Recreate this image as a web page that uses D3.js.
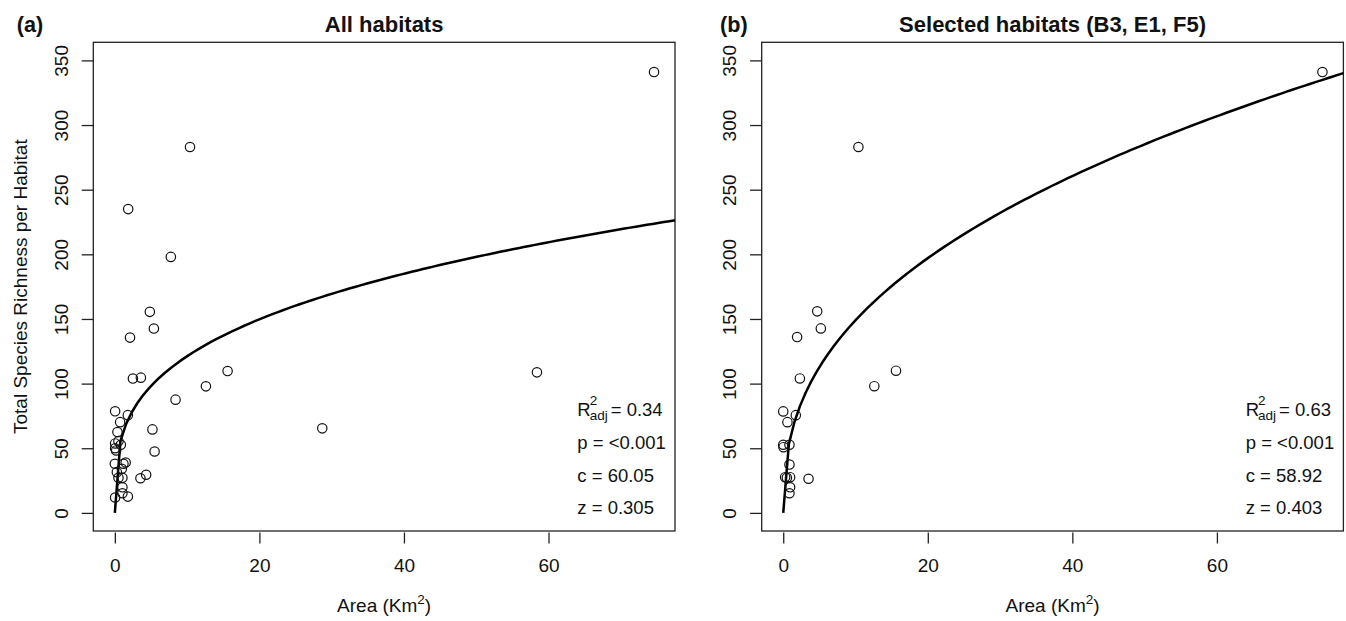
<!DOCTYPE html>
<html>
<head>
<meta charset="utf-8">
<script src="https://cdn.jsdelivr.net/npm/d3@7"></script>
<style>
  html, body { margin: 0; padding: 0; background: #fff; }
  svg { display: block; font-family: "Liberation Sans", Arial, Helvetica, sans-serif; }
</style>
</head>
<body>
<svg id="chart" width="1346" height="621"></svg>
<script>
// ---- data ----
const areaAll = [74.6, 10.4, 1.85, 7.75, 4.84, 5.4, 2.1, 2.5, 3.6, 15.6, 12.6, 58.4, 8.4,
  0.04, 1.8, 0.73, 5.2, 0.36, 0.5, 0.04, 0.83, 0.04, 0.18, 5.5, 28.7, 0.0, 1.19, 1.5,
  0.28, 0.97, 4.33, 3.54, 0.5, 1.05, 1.05, 1.05, 0.04, 1.8];
const richAll = [341, 283, 235, 198, 155.5, 142.6, 135.6, 103.9, 104.6, 109.7, 97.9, 108.7, 87.6,
  78.6, 75.6, 70.2, 64.6, 62.5, 55.5, 53.7, 52.7, 50, 48.3, 47.5, 65.4, 38, 38, 39,
  31.5, 34.1, 29.5, 26.8, 27.1, 27.1, 19.8, 15.2, 11.9, 12.6];
const areaSel = [74.6, 10.4, 4.7, 5.2, 1.92, 2.3, 12.6, 15.6, 0.0, 1.74, 0.58, 0.0, 0.03, 0.86,
  0.86, 3.5, 0.26, 0.5, 0.95, 0.95, 0.86];
const richSel = [341, 283, 155.9, 142.7, 136, 104, 98, 110, 78.5, 75.6, 70.2, 52.7, 50.8, 52.7,
  37.4, 26.4, 27.6, 27.1, 27.6, 19.8, 15.2];

const panelTitles = ["All habitats", "Selected habitats (B3, E1, F5)"];
const panelTags = ["(a)", "(b)"];
const fitC = [60.05, 58.92];
const fitZ = [0.305, 0.403];
const r2Labels = ["0.34", "0.63"];
const pLabels = ["<0.001", "<0.001"];
const cLabels = ["60.05", "58.92"];
const zLabels = ["0.305", "0.403"];
const xTicks = [0, 20, 40, 60];
const yTicks = [0, 50, 100, 150, 200, 250, 300, 350];
const xDomain = [-2.98, 77.5];
const yDomain = [-14, 364];

// ---- layout ----
const svg = d3.select("#chart");
const panelW = 581.7, panelH = 488.7;
const panelLeft = [93.3, 761.7];
const panelTop = 42.3;
const tagX = [16.7, 720];
const fs = 19;
const fsStats = 18.5;

const x = d3.scaleLinear().domain(xDomain).range([0, panelW]);
const y = d3.scaleLinear().domain(yDomain).range([panelH, 0]);

const datasets = [[areaAll, richAll], [areaSel, richSel]];

for (let p = 0; p < 2; p++) {
  const g = svg.append("g").attr("transform", `translate(${panelLeft[p]},${panelTop})`);

  // box
  g.append("rect").attr("x", 0).attr("y", 0).attr("width", panelW).attr("height", panelH)
    .attr("fill", "none").attr("stroke", "#222").attr("stroke-width", 1.3);

  // x axis
  const xa = g.append("g").attr("transform", `translate(0,${panelH + 1.5})`)
    .call(d3.axisBottom(x).tickValues(xTicks).tickSize(11).tickSizeOuter(0).tickPadding(15.5)
      .tickFormat(d3.format("d")));
  xa.select(".domain").remove();
  xa.selectAll(".tick line").attr("stroke", "#222").attr("stroke-width", 1.3);
  xa.selectAll(".tick text").attr("font-size", fs).attr("fill", "#111")
    .attr("font-family", "Liberation Sans, Arial, sans-serif");

  // y axis
  const ya = g.append("g")
    .call(d3.axisLeft(y).tickValues(yTicks).tickSize(11.6).tickSizeOuter(0)
      .tickFormat(d3.format("d")));
  ya.select(".domain").remove();
  ya.selectAll(".tick line").attr("stroke", "#222").attr("stroke-width", 1.3);
  ya.selectAll(".tick text")
    .attr("x", null).attr("dy", null).attr("y", 0)
    .attr("text-anchor", "middle")
    .attr("transform", "translate(-25.5,0) rotate(-90)")
    .attr("font-size", fs).attr("fill", "#111")
    .attr("font-family", "Liberation Sans, Arial, sans-serif");

  // fitted power curve S = c * A^z, sampled like R's curve() (n = 101)
  const xEnd = xDomain[1];
  const curvePts = d3.range(101).map(i => {
    const a = xEnd * i / 100;
    return [a, fitC[p] * Math.pow(a, fitZ[p])];
  });
  g.append("path").datum(curvePts)
    .attr("d", d3.line().x(d => x(d[0])).y(d => y(d[1])))
    .attr("fill", "none").attr("stroke", "#000").attr("stroke-width", 2.5)
    .attr("stroke-linejoin", "round");

  // points
  const [ax, ry] = datasets[p];
  g.append("g").selectAll("circle").data(ax.map((v, i) => [v, ry[i]])).join("circle")
    .attr("cx", d => x(d[0])).attr("cy", d => y(d[1])).attr("r", 4.7)
    .attr("fill", "none").attr("stroke", "#111").attr("stroke-width", 1.2);

  // stats text
  const sx = 484, sy0 = 373.7, step = 32.8;
  const rt = g.append("text").attr("x", sx).attr("y", sy0).attr("font-size", fsStats).attr("fill", "#111").text("R");
  const rw = rt.node().getComputedTextLength();
  g.append("text").attr("x", sx + rw - 1).attr("y", sy0 - 10.5).attr("font-size", 13.5).attr("fill", "#111").text("2");
  const adj = g.append("text").attr("x", sx + rw - 1).attr("y", sy0 + 4.5).attr("font-size", 13.5).attr("fill", "#111").text("adj");
  const aw = adj.node().getComputedTextLength();
  g.append("text").attr("x", sx + rw + aw + 2).attr("y", sy0).attr("font-size", fsStats).attr("fill", "#111")
    .text("= " + r2Labels[p]);
  g.append("text").attr("x", sx).attr("y", sy0 + step).attr("font-size", fsStats).attr("fill", "#111").text("p = " + pLabels[p]);
  g.append("text").attr("x", sx).attr("y", sy0 + 2 * step).attr("font-size", fsStats).attr("fill", "#111").text("c = " + cLabels[p]);
  g.append("text").attr("x", sx).attr("y", sy0 + 3 * step).attr("font-size", fsStats).attr("fill", "#111").text("z = " + zLabels[p]);

  // x title
  const xt = g.append("text").attr("x", panelW / 2).attr("y", 612 - panelTop)
    .attr("text-anchor", "middle").attr("font-size", fs).attr("fill", "#111");
  xt.append("tspan").text("Area (Km");
  xt.append("tspan").attr("font-size", 13.5).attr("dy", -7.5).text("2");
  xt.append("tspan").attr("dy", 7.5).text(")");

  // panel title
  svg.append("text").attr("x", panelLeft[p] + panelW / 2).attr("y", 31.5)
    .attr("text-anchor", "middle").attr("font-size", 22).attr("font-weight", "bold").attr("fill", "#111")
    .text(panelTitles[p]);
  svg.append("text").attr("x", tagX[p]).attr("y", 31.5)
    .attr("font-size", 21.6).attr("font-weight", "bold").attr("fill", "#111")
    .text(panelTags[p]);
}

// y title (left panel only)
svg.append("text").attr("transform", `translate(27,${panelTop + panelH / 2}) rotate(-90)`)
  .attr("text-anchor", "middle").attr("font-size", fs).attr("fill", "#111")
  .text("Total Species Richness per Habitat");
</script>
</body>
</html>
